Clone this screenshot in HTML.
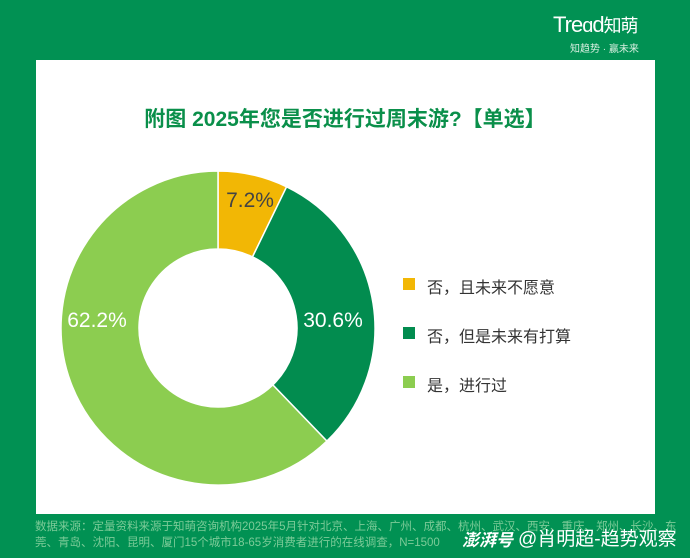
<!DOCTYPE html>
<html><head><meta charset="utf-8"><style>
body{margin:0;width:690px;height:558px;background:#019153;position:relative;overflow:hidden;font-family:"Liberation Sans","Noto Sans CJK SC",sans-serif}
.panel{position:absolute;left:36px;top:60px;width:619px;height:454px;background:#fff}
.t{position:absolute;white-space:nowrap}
</style></head><body>
<div class="t" style="left:553px;top:12px;color:#fff;font-size:22px;letter-spacing:-1px">Tre<span style="font-size:20px">ɑ</span>d<span style="font-size:18px">知萌</span></div>
<div class="t" style="left:570px;top:40px;color:#d8efe0;font-size:10px">知趋势 · 赢未来</div>
<div class="panel"></div>
<div class="t" style="left:0;width:690px;text-align:center;top:103px;color:#0a8f4a;font-size:21px;font-weight:bold">附图 2025年您是否进行过周末游?【单选】</div>
<svg style="position:absolute;left:0;top:0" width="690" height="558">
<g stroke="#fff" stroke-width="1.5">
<path d="M218,171 A157,157 0 0,1 286.6,186.8 L252.5,256.9 A79,79 0 0,0 218,249 Z" fill="#f2b705"/>
<path d="M286.6,186.8 A157,157 0 0,1 326.9,441.1 L272.8,384.9 A79,79 0 0,0 252.5,256.9 Z" fill="#028c4f"/>
<path d="M326.9,441.1 A157,157 0 1,1 218,171 L218,249 A79,79 0 1,0 272.8,384.9 Z" fill="#8ccd50"/>
</g>
<g font-family="Liberation Sans, sans-serif" font-size="21" text-anchor="middle">
<text x="250" y="207" fill="#444">7.2%</text>
<text x="333" y="327" fill="#fff">30.6%</text>
<text x="97" y="327" fill="#fff">62.2%</text>
</g>
<rect x="403" y="278" width="12" height="12" fill="#f2b705"/>
<rect x="403" y="327" width="12" height="12" fill="#028c4f"/>
<rect x="403" y="376" width="12" height="12" fill="#8ccd50"/>
</svg>
<div class="t" style="left:427px;top:274px;font-size:16px;color:#333">否，且未来不愿意</div>
<div class="t" style="left:427px;top:323px;font-size:16px;color:#333">否，但是未来有打算</div>
<div class="t" style="left:427px;top:372px;font-size:16px;color:#333">是，进行过</div>
<div class="t" style="left:35px;top:519px;font-size:11.5px;color:#7ccb98;line-height:16px">数据来源：定量资料来源于知萌咨询机构2025年5月针对北京、上海、广州、成都、杭州、武汉、西安、重庆、郑州、长沙、东<br>莞、青岛、沈阳、昆明、厦门15个城市18-65岁消费者进行的在线调查，N=1500</div>
<div class="t" style="left:462px;top:526px;font-size:17px;color:#fff;font-weight:bold;font-style:italic">澎湃号</div>
<div class="t" style="left:518px;top:524px;font-size:19px;color:#fff">@肖明超-趋势观察</div>
</body></html>
